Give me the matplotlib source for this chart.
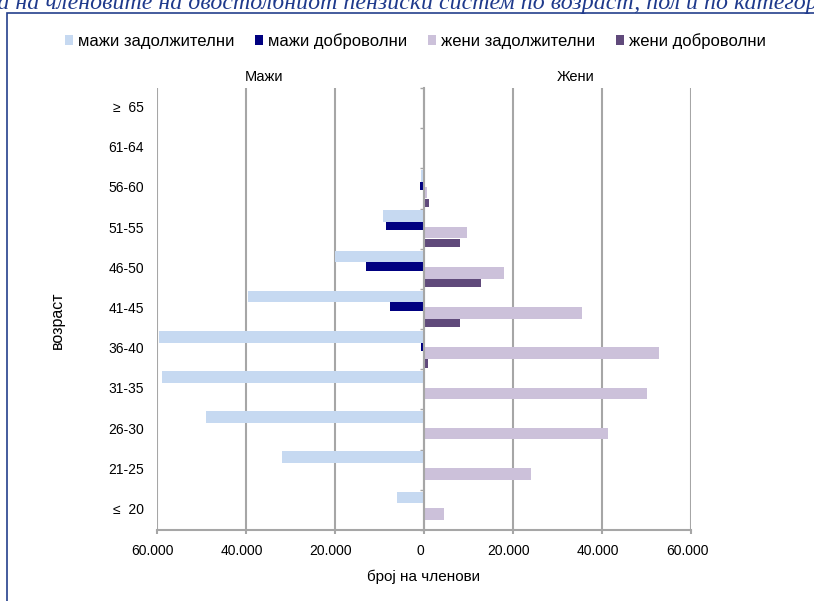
import numpy as np
import matplotlib
matplotlib.use("Agg")
import matplotlib.pyplot as plt
from matplotlib.patches import Rectangle
from matplotlib.ticker import FuncFormatter
import matplotlib.transforms as mtransforms

plt.rcParams['font.family'] = ['Liberation Sans', 'DejaVu Sans']

# age groups, bottom to top
ages = ["≤  20", "21-25", "26-30", "31-35", "36-40", "41-45",
        "46-50", "51-55", "56-60", "61-64", "≥  65"]

men_mandatory = [6000, 31800, 48900, 58800, 59500, 39600, 20000, 9300, 700, 100, 0]
men_voluntary = [0, 0, 0, 0, 600, 7700, 13000, 8600, 800, 0, 0]
women_mandatory = [4400, 24000, 41300, 50100, 52700, 35400, 17900, 9700, 700, 200, 0]
women_voluntary = [0, 0, 0, 0, 1000, 8100, 12700, 8200, 1100, 0, 0]

labels = ["мажи задолжителни", "мажи доброволни", "жени задолжителни", "жени доброволни"]
colors = ["#C6D9F1", "#000080", "#CCC1DA", "#604A7B"]

title = "Структура на членовите на двостолбниот пензиски систем по возраст, пол и по категорија"
hidden_part = "Структур"  # this part of the title falls off the left edge

grey = "#A6A6A6"

fig = plt.figure(figsize=(8.14, 6.01), dpi=100)
ax = fig.add_axes([157 / 814, 1 - 530 / 601, (691 - 157) / 814, (530 - 88) / 601])

y = np.arange(len(ages))
ax.barh(y + 0.31, -np.array(men_mandatory), height=0.29, color=colors[0], label=labels[0])
ax.barh(y + 0.06, -np.array(men_voluntary), height=0.21, color=colors[1], label=labels[1])
ax.barh(y - 0.10, women_mandatory, height=0.29, color=colors[2], label=labels[2])
ax.barh(y - 0.355, women_voluntary, height=0.21, color=colors[3], label=labels[3])

ax.set_xlim(-60000, 60000)
ax.set_ylim(-0.5, len(ages) - 0.5)

ax.set_xticks(np.arange(-60000, 60001, 20000))
ax.xaxis.set_major_formatter(FuncFormatter(lambda v, p: f"{abs(int(v)):,}".replace(",", ".")))
ax.tick_params(axis='x', colors=grey, length=3, width=1.5, labelcolor='black', labelsize=10, pad=7)
shift = mtransforms.ScaledTranslation(-4 / 100, 0, fig.dpi_scale_trans)
for lab in ax.get_xticklabels():
    lab.set_transform(lab.get_transform() + shift)
ax.grid(axis='x', color=grey, linewidth=1.5)
ax.set_axisbelow(True)

# y axis sits at zero, category boundary ticks only
ax.spines['left'].set_position(('data', 0))
ax.spines['left'].set_color(grey)
ax.spines['left'].set_linewidth(1.5)
ax.spines['left'].set_zorder(3)
ax.spines['bottom'].set_color(grey)
ax.spines['bottom'].set_linewidth(1.5)
ax.spines['top'].set_visible(False)
ax.spines['right'].set_visible(False)
ax.set_yticks(np.arange(-0.5, len(ages), 1.0))
ax.set_yticklabels([])
ax.tick_params(axis='y', colors=grey, length=3, width=1)

trans = mtransforms.blended_transform_factory(ax.transAxes, ax.transData)
for i, a in enumerate(ages):
    ax.text(-0.024, i, a, transform=trans, ha='right', va='center', fontsize=10)

fig.text(423 / 814, 1 - 577 / 601, "број на членови", ha='center', va='center', fontsize=11)
fig.text(57 / 814, 1 - 320 / 601, "возраст", rotation=90, ha='center', va='center', fontsize=11.5)
fig.text(264 / 814, 1 - 77 / 601, "Мажи", ha='center', va='center', fontsize=10.5)
fig.text(576 / 814, 1 - 77 / 601, "Жени", ha='center', va='center', fontsize=10.5)

fig.legend(loc='center', bbox_to_anchor=(415 / 814, 1 - 41 / 601), ncol=4, frameon=False,
           fontsize=12, handlelength=0.48, handleheight=0.48, handletextpad=0.3, columnspacing=1.25)

# outer frame of the original chart box
fig.patches.append(Rectangle((7 / 814, -0.1), 1.2, 1.1 - 13 / 601, transform=fig.transFigure,
                             fill=False, edgecolor="#243F8C", linewidth=1.2))

title_kw = dict(fontsize=17.2, family='Liberation Serif', style='italic', color="#1F3A8C")
renderer = fig.canvas.get_renderer()
probe = fig.text(0, 0, hidden_part, **title_kw)
w = probe.get_window_extent(renderer).width
probe.remove()
fig.text(-(w + 3) / 814, 1 - 9 / 601, title, ha='left', va='baseline', **title_kw)

fig.savefig("out.png", dpi=100)
